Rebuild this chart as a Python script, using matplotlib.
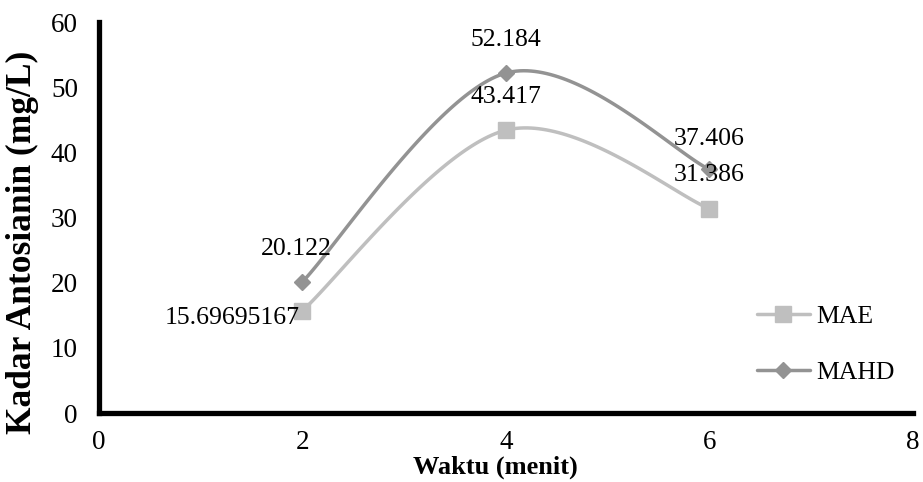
import numpy as np
import matplotlib
matplotlib.use("Agg")
import matplotlib.pyplot as plt
from matplotlib.lines import Line2D

plt.rcParams['font.family'] = ['Liberation Serif', 'DejaVu Serif']

waktu = [2, 4, 6]
mae = [15.69695167, 43.417, 31.386]
mahd = [20.122, 52.184, 37.406]
mae_labels = ["15.69695167", "43.417", "31.386"]
mahd_labels = ["20.122", "52.184", "37.406"]

c_mae = "#BFBFBF"
c_mahd = "#939393"

W, H = 923, 482
fig = plt.figure(figsize=(W / 100, H / 100), dpi=100)
ax = fig.add_axes([0.107, 0.143, 0.882, 0.811])
ax.set_xlim(0, 8)
ax.set_ylim(0, 60)


def smooth(xs, ys, n=60):
    # Excel-like smoothing: cubic Bezier segments with Catmull-Rom control points (display space)
    pts = ax.transData.transform(np.column_stack([xs, ys]))
    out = []
    m = len(pts)
    for i in range(m - 1):
        p0 = pts[i - 1] if i > 0 else pts[i]
        p1 = pts[i]
        p2 = pts[i + 1]
        p3 = pts[i + 2] if i + 2 < m else pts[i + 1]
        c1 = p1 + (p2 - p0) / 6.0
        c2 = p2 - (p3 - p1) / 6.0
        t = np.linspace(0, 1, n)[:, None]
        seg = ((1 - t) ** 3) * p1 + 3 * ((1 - t) ** 2) * t * c1 + 3 * (1 - t) * t ** 2 * c2 + t ** 3 * p2
        out.append(seg if i == 0 else seg[1:])
    out = np.vstack(out)
    d = ax.transData.inverted().transform(out)
    return d[:, 0], d[:, 1]


sx, sy = smooth(waktu, mae)
ax.plot(sx, sy, color=c_mae, lw=2.5, solid_capstyle='round', zorder=3)
ax.plot(waktu, mae, ls='none', marker='s', ms=11, color=c_mae, zorder=4)
sx, sy = smooth(waktu, mahd)
ax.plot(sx, sy, color=c_mahd, lw=2.5, solid_capstyle='round', zorder=3)
ax.plot(waktu, mahd, ls='none', marker='D', ms=8.5, color=c_mahd, zorder=4)

fs = 18.5
# data labels
ax.annotate(mae_labels[0], (waktu[0], mae[0]), xytext=(-2, -5), textcoords='offset points',
            ha='right', va='center', fontsize=fs, zorder=5)
ax.annotate(mae_labels[1], (waktu[1], mae[1]), xytext=(0, 24), textcoords='offset points',
            ha='center', va='center', fontsize=fs, zorder=5)
ax.annotate(mae_labels[2], (waktu[2], mae[2]), xytext=(0, 24), textcoords='offset points',
            ha='center', va='center', fontsize=fs, zorder=5)
ax.annotate(mahd_labels[0], (waktu[0], mahd[0]), xytext=(-4, 24), textcoords='offset points',
            ha='center', va='center', fontsize=fs, zorder=5)
ax.annotate(mahd_labels[1], (waktu[1], mahd[1]), xytext=(0, 24), textcoords='offset points',
            ha='center', va='center', fontsize=fs, zorder=5)
ax.annotate(mahd_labels[2], (waktu[2], mahd[2]), xytext=(0, 22), textcoords='offset points',
            ha='center', va='center', fontsize=fs, zorder=5)

ax.set_xticks([0, 2, 4, 6, 8])
ax.set_yticks(np.arange(0, 61, 10))
ax.tick_params(length=0, labelsize=19.5)
ax.tick_params(axis='y', pad=15)
ax.tick_params(axis='x', pad=12)
for s in ['top', 'right']:
    ax.spines[s].set_visible(False)
for s in ['left', 'bottom']:
    ax.spines[s].set_linewidth(3.8)
    ax.spines[s].set_color('black')
ax.spines['left'].set_capstyle('projecting')
ax.spines['bottom'].set_capstyle('projecting')

fig.text(495 / W, 1 - 467 / H, "Waktu (menit)", fontsize=19, fontweight='bold',
         ha='center', va='center')
fig.text(22.5 / W, 1 - 242 / H, "Kadar Antosianin (mg/L)", fontsize=25.5, fontweight='bold',
         ha='center', va='center', rotation=90)

handles = [Line2D([], [], color=c_mae, lw=2.5, marker='s', ms=11, solid_capstyle='round'),
           Line2D([], [], color=c_mahd, lw=2.5, marker='D', ms=8.5, solid_capstyle='round')]
ax.legend(handles, ["MAE", "MAHD"], loc='center left', bbox_to_anchor=(0.78, 0.175),
          frameon=False, fontsize=fs, handlelength=2.05, handletextpad=0.25, labelspacing=1.3)

fig.savefig("out.png", dpi=100)
